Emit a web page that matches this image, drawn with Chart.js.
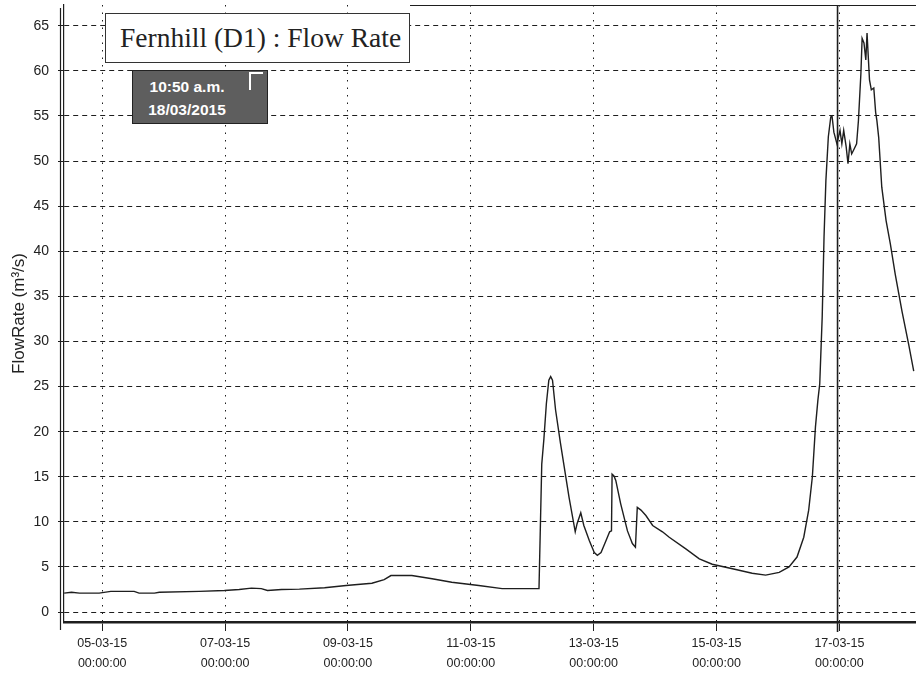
<!DOCTYPE html>
<html>
<head>
<meta charset="utf-8">
<script src="https://cdn.jsdelivr.net/npm/chart.js@4.4.1/dist/chart.umd.min.js"></script>
<style>
    html, body { margin: 0; padding: 0; background: #fff; }
    #wrap { position: relative; width: 916px; height: 682px; }
    #flowChart { display: block; }
    .title-box {
        position: absolute; left: 105px; top: 13px; width: 305px; height: 50px;
        background: #fff; border: 1px solid #333; box-sizing: border-box;
        font-family: 'Liberation Serif', 'DejaVu Serif', serif; font-size: 27.5px; color: #222;
        padding-left: 14px; line-height: 48px; white-space: nowrap;
    }
    .tip-box {
        position: absolute; left: 132px; top: 70px; width: 136px; height: 54px;
        background: #5e5e5e; border: 1px solid #222; box-sizing: border-box;
        font-family: 'Liberation Sans', Arial, sans-serif; font-weight: bold; font-size: 15.5px;
        color: #fff; line-height: 23px; padding-top: 4px;
    }
    .tip-box div { width: 108px; text-align: center; }
    .tip-pin {
        position: absolute; left: 116px; top: 1px; width: 14px; height: 18px;
        border-left: 2px solid #fff; border-top: 2px solid #fff; box-sizing: border-box;
    }
</style>
</head>
<body>
<div id="wrap">
    <canvas id="flowChart" width="916" height="682"></canvas>
    <div class="title-box">Fernhill (D1) : Flow Rate</div>
    <div class="tip-box">
        <div>10:50 a.m.</div>
        <div>18/03/2015</div>
        <span class="tip-pin"></span>
    </div>
</div>
<script>
// time in days of March 2015, flow in m3/s
const timeDays = [
    4.38, 4.50, 4.63, 4.95, 5.14, 5.52, 5.60, 5.85, 5.93, 6.58,
    6.99, 7.23, 7.43, 7.59, 7.69, 7.92, 8.21, 8.62, 8.97, 9.39,
    9.59, 9.70, 10.04, 10.37, 10.69, 11.13, 11.51, 12.11, 12.155, 12.19,
    12.23, 12.27, 12.30, 12.33, 12.38, 12.46, 12.60, 12.70, 12.73, 12.79,
    12.84, 12.93, 13.01, 13.06, 13.12, 13.20, 13.26, 13.29, 13.30, 13.33,
    13.36, 13.44, 13.55, 13.63, 13.68, 13.71, 13.77, 13.85, 13.96, 14.12,
    14.23, 14.50, 14.72, 14.93, 15.26, 15.58, 15.80, 16.02, 16.18, 16.31,
    16.42, 16.50, 16.56, 16.61, 16.65, 16.68, 16.72, 16.75, 16.78, 16.82,
    16.86, 16.88, 16.91, 16.96, 17.01, 17.04, 17.07, 17.11, 17.14, 17.17,
    17.20, 17.23, 17.28, 17.31, 17.35, 17.37, 17.40, 17.43, 17.45, 17.47,
    17.49, 17.52, 17.56, 17.59, 17.61, 17.64, 17.69, 17.76, 17.83, 17.91,
    18.02, 18.13, 18.21
];
const flowRate = [
    2.1, 2.2, 2.1, 2.1, 2.3, 2.3, 2.1, 2.1, 2.2, 2.3,
    2.4, 2.5, 2.65, 2.6, 2.4, 2.5, 2.55, 2.7, 2.95, 3.2,
    3.6, 4.05, 4.05, 3.7, 3.3, 2.95, 2.6, 2.6, 16.4, 19.2,
    23.1, 25.7, 26.1, 25.7, 22.4, 18.7, 12.7, 8.9, 9.8, 11.0,
    9.6, 7.9, 6.6, 6.3, 6.6, 7.9, 8.9, 9.0, 15.3, 15.1,
    14.6, 12.0, 9.0, 7.6, 7.2, 11.6, 11.3, 10.7, 9.6, 8.9,
    8.3, 7.0, 5.9, 5.3, 4.8, 4.3, 4.1, 4.4, 5.0, 6.1,
    8.3, 11.3, 15.0, 20.5, 23.5, 25.3, 32.7, 41.6, 47.8, 52.7,
    54.9, 55.0, 53.2, 51.9, 53.4, 51.9, 53.4, 51.6, 49.7, 51.9,
    50.8, 51.2, 51.9, 54.5, 59.7, 63.6, 63.1, 61.2, 64.2, 61.6,
    59.0, 57.9, 58.1, 55.4, 54.5, 52.6, 47.1, 43.4, 40.8, 37.4,
    33.3, 29.6, 26.7
];

const tickDays = [5, 7, 9, 11, 13, 15, 17];
const dateLabels = ['05-03-15', '07-03-15', '09-03-15', '11-03-15', '13-03-15', '15-03-15', '17-03-15'];
const yTicks = [0, 5, 10, 15, 20, 25, 30, 35, 40, 45, 50, 55, 60, 65];

const ink = '#1e1e1e';

// extra lines: double left axis, cursor line, top edge
const extraLines = {
    id: 'extraLines',
    afterDraw(chart) {
        const { ctx, chartArea, scales } = chart;
        ctx.save();
        ctx.setLineDash([]);
        ctx.strokeStyle = ink;
        ctx.lineWidth = 1.2;
        ctx.beginPath();
        ctx.moveTo(chartArea.left - 3.5, chartArea.top + 3);
        ctx.lineTo(chartArea.left - 3.5, chartArea.bottom + 8);
        ctx.stroke();
        const xc = scales.x.getPixelForValue(16.97);
        ctx.lineWidth = 1.6;
        ctx.beginPath();
        ctx.moveTo(xc, chartArea.top);
        ctx.lineTo(xc, chartArea.bottom + 10);
        ctx.stroke();
        ctx.lineWidth = 1;
        ctx.beginPath();
        ctx.moveTo(410, chartArea.top + 0.5);
        ctx.lineTo(chartArea.right, chartArea.top + 0.5);
        ctx.stroke();
        ctx.restore();
    }
};

new Chart(document.getElementById('flowChart'), {
    type: 'line',
    data: {
        datasets: [{
            label: 'FlowRate',
            data: timeDays.map((d, i) => ({ x: d, y: flowRate[i] })),
            borderColor: ink,
            borderWidth: 1.4,
            pointRadius: 0,
            tension: 0,
            fill: false
        }]
    },
    options: {
        responsive: false,
        animation: false,
        events: [],
        layout: { padding: { top: 5, left: 0, right: 0, bottom: 0 } },
        scales: {
            x: {
                type: 'linear',
                min: 4.378,
                max: 18.247,
                afterBuildTicks: (scale) => { scale.ticks = tickDays.map(v => ({ value: v })); },
                afterFit: (scale) => {
                    scale.height = 60;
                    scale.paddingLeft = 0;
                    scale.paddingRight = 0;
                },
                ticks: {
                    color: '#222',
                    maxRotation: 0,
                    autoSkip: false,
                    padding: 3,
                    font: { family: "'Liberation Sans', Arial, sans-serif", size: 12.5, lineHeight: 1.6 },
                    callback: (v) => {
                        const i = tickDays.indexOf(v);
                        return i < 0 ? '' : [dateLabels[i], '00:00:00'];
                    }
                },
                grid: {
                    color: ink,
                    lineWidth: 1,
                    tickLength: 9,
                    tickColor: ink
                },
                border: { display: true, color: ink, width: 2.5, dash: [1.5, 6] }
            },
            y: {
                min: -1.1,
                max: 67.3,
                afterBuildTicks: (scale) => { scale.ticks = yTicks.map(v => ({ value: v })); },
                afterFit: (scale) => {
                    scale.width = 64;
                    scale.paddingTop = 0;
                    scale.paddingBottom = 0;
                },
                title: {
                    display: true,
                    text: 'FlowRate (m\u00b3/s)',
                    color: '#222',
                    padding: { top: 9, bottom: 0 },
                    font: { family: "'Liberation Sans', Arial, sans-serif", size: 17 }
                },
                ticks: {
                    color: '#222',
                    padding: 9,
                    font: { family: "'Liberation Sans', Arial, sans-serif", size: 14 }
                },
                grid: {
                    color: ink,
                    lineWidth: 1,
                    tickLength: 6,
                    tickColor: ink
                },
                border: { display: true, color: ink, width: 1.2, dash: [5, 4] }
            }
        },
        plugins: {
            legend: { display: false },
            tooltip: { enabled: false }
        }
    },
    plugins: [extraLines]
});
</script>
</body>
</html>
